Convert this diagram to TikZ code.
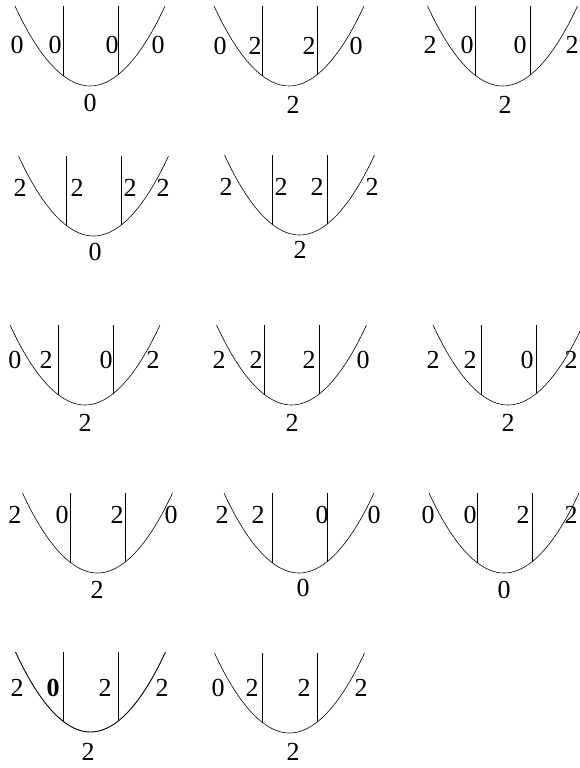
\documentclass[tikz,border=0pt]{standalone}
\usepackage{fontspec}
\setmainfont{Liberation Serif}
\tikzset{
  curve/.style={line width=0.6pt, black},
  lab/.style={font=\fontsize{26}{26}\selectfont, inner sep=0pt, anchor=center}
}
\newcommand{\diag}[4][0.6pt]{%
  \draw[curve, line width=#1] ({#3-75},#4) coordinate (#2L) parabola bend ({#3},{#4+80}) ({#3+75},#4) coordinate (#2R);
  \coordinate (#2B) at ({#3},{#4+80});
  \draw[curve, line width=#1] ({#3-27},#4) coordinate (#2p) -- ++(0,{80*(1-(27/75)^2)}) coordinate (#2pb);
  \draw[curve, line width=#1] ({#3+28},#4) coordinate (#2q) -- ++(0,{80*(1-(28/75)^2)}) coordinate (#2qb);
}
\newcommand{\lab}[4]{\node[lab] (#1) at (#2,#3) {#4};}
\begin{document}
\begin{tikzpicture}[x=1pt,y=-1pt]
\useasboundingbox (0,0) rectangle (580,768);
\begin{scope}
\clip (0,0) rectangle (580,768);
% Row 1
\diag{d1}{90}{6}
\lab{d1a}{17}{45}{0}\lab{d1b}{55}{45}{0}\lab{d1c}{112}{45}{0}\lab{d1d}{158}{45}{0}\lab{d1e}{90}{103}{0}
\diag{d2}{289}{6}
\lab{d2a}{220}{46}{0}\lab{d2b}{255}{46}{2}\lab{d2c}{309}{46}{2}\lab{d2d}{356}{46}{0}\lab{d2e}{293}{105}{2}
\diag{d3}{502.5}{6}
\lab{d3a}{430}{45}{2}\lab{d3b}{467}{45}{0}\lab{d3c}{520}{45}{0}\lab{d3d}{572}{45}{2}\lab{d3e}{505}{105}{2}
% Row 2
\diag{d4}{93.5}{156}
\lab{d4a}{20}{188}{2}\lab{d4b}{77}{188}{2}\lab{d4c}{130}{188}{2}\lab{d4d}{163}{188}{2}\lab{d4e}{95}{252}{0}
\diag{d5}{299.5}{155}
\lab{d5a}{226}{187}{2}\lab{d5b}{281}{187}{2}\lab{d5c}{317}{187}{2}\lab{d5d}{372}{187}{2}\lab{d5e}{300}{250}{2}
% Row 3
\diag{d6}{85}{325}
\lab{d6a}{15}{360}{0}\lab{d6b}{46}{360}{2}\lab{d6c}{106}{360}{0}\lab{d6d}{153}{360}{2}\lab{d6e}{85}{423}{2}
\diag{d7}{291.5}{325}
\lab{d7a}{219}{360}{2}\lab{d7b}{256}{360}{2}\lab{d7c}{309}{360}{2}\lab{d7d}{363}{360}{0}\lab{d7e}{292}{423}{2}
\diag{d8}{508}{325}
\lab{d8a}{433}{360}{2}\lab{d8b}{470}{360}{2}\lab{d8c}{527}{360}{0}\lab{d8d}{571}{360}{2}\lab{d8e}{508}{423}{2}
% Row 4
\diag{d9}{97.5}{493}
\lab{d9a}{15}{515}{2}\lab{d9b}{62}{515}{0}\lab{d9c}{117}{515}{2}\lab{d9d}{171}{515}{0}\lab{d9e}{97}{590}{2}
\diag{d10}{299}{493}
\lab{d10a}{222}{515}{2}\lab{d10b}{258}{515}{2}\lab{d10c}{322}{515}{0}\lab{d10d}{374}{515}{0}\lab{d10e}{303}{588}{0}
\diag{d11}{504}{493}
\lab{d11a}{428}{515}{0}\lab{d11b}{470}{515}{0}\lab{d11c}{523}{515}{2}\lab{d11d}{571}{515}{2}\lab{d11e}{504}{590}{0}
% Row 5
\diag[0.9pt]{d12}{90.5}{652}
\lab{d12a}{17}{688}{2}\lab{d12b}{53}{688}{\textbf{0}}\lab{d12c}{105}{688}{2}\lab{d12d}{162}{688}{2}\lab{d12e}{88}{752}{2}
\diag{d13}{289.5}{653}
\lab{d13a}{218}{688}{0}\lab{d13b}{252}{688}{2}\lab{d13c}{304}{688}{2}\lab{d13d}{361}{688}{2}\lab{d13e}{293}{752}{2}
\end{scope}
\end{tikzpicture}
\end{document}
